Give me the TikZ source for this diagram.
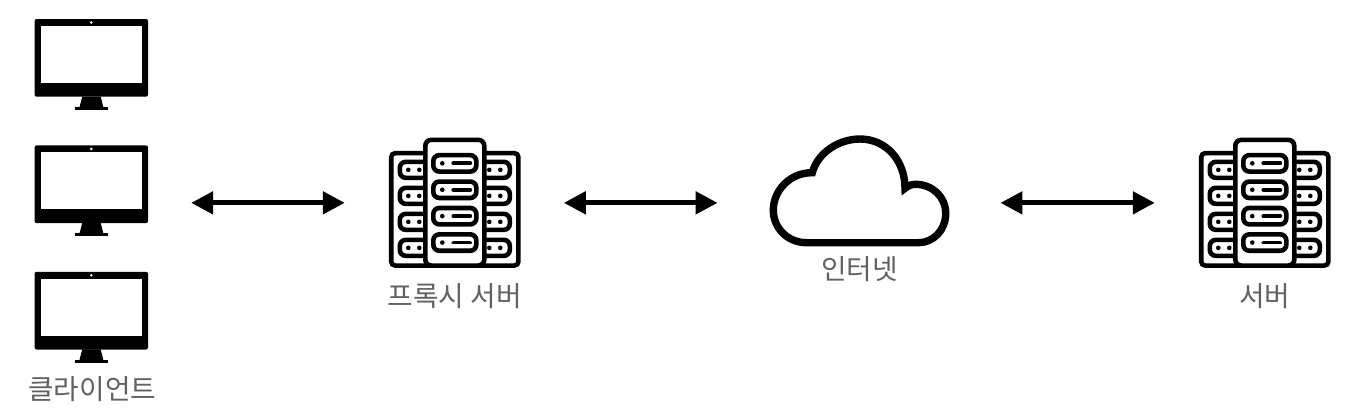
\documentclass[tikz,border=0pt]{standalone}
\usepackage{fontspec}
\usepackage{xcolor}
\usepackage{tikz}
\usetikzlibrary{arrows.meta, positioning}
\newfontfamily\krfont{Noto Sans CJK KR}

\begin{document}
\begin{tikzpicture}[
  x=1pt, y=-1pt,
  client/.style={minimum width=113.4pt, minimum height=91pt, inner sep=0pt},
  srv/.style={minimum width=131.7pt, minimum height=130.3pt, inner sep=0pt},
  net/.style={minimum width=179.5pt, minimum height=112pt, inner sep=0pt},
  lbl/.style={font=\krfont\fontsize{27.8pt}{32pt}\selectfont, text=black!62, inner sep=0pt},
  arr/.style={{Triangle[length=22pt,width=22pt]}-{Triangle[length=22pt,width=22pt]}, line width=5pt},
  box/.style={line width=4.6pt, rounded corners=4pt},
  monitor/.pic={
    \fill[rounded corners=2pt] (-56.7,-45.5) rectangle (56.7,32.2);
    \fill[white] (-50,-38.5) rectangle (50.2,18.5);
    \fill[white] (0,-42) circle (1.4);
    \fill (-9,32) -- (9.4,32) -- (12,42.5) -- (-11.8,42.5) -- cycle;
    \fill (-16.3,42.5) rectangle (16.7,45.5);
  },
  rack/.pic={
    %% side columns
    \draw[box, fill=white] (-63.6,-49.7) rectangle (63.6,62.7);
    \foreach \i in {0,...,3} {
      \begin{scope}[yshift=-26pt*\i]
        \draw[box, rounded corners=6pt] (-55,-41) rectangle (-20,-25);
        \draw[box, rounded corners=6pt] (20,-41) rectangle (55,-25);
        \fill (-46.5,-33) circle (2.3);
        \fill (-35.5,-33) circle (2.3);
        \fill (34.5,-33) circle (2.3);
        \fill (45.5,-33) circle (2.3);
      \end{scope}
    }
    %% middle tower
    \draw[box, rounded corners=6pt, fill=white] (-29.5,-63) rectangle (29.5,62.7);
    \foreach \i in {0,...,3} {
      \begin{scope}[yshift=-26.4pt*\i]
        \draw[box, rounded corners=6pt] (-21.5,-47.7) rectangle (21.5,-31.3);
        \fill (-12.5,-39.5) circle (2.3);
        \draw[line width=3.8pt, line cap=round] (-1.5,-39.5) -- (15.5,-39.5);
      \end{scope}
    }
  },
  cloudicon/.pic={
    \draw[line width=7.4pt, line join=miter]
      (-52.8,51.7) .. controls (-71.5,51.7) and (-86.2,37.5) .. (-86.2,19)
      .. controls (-86.2,0) and (-70,-18.5) .. (-47.2,-18.3)
      .. controls (-42,-38) and (-21,-52) .. (0.5,-52)
      .. controls (27,-52) and (45.5,-30) .. (45.5,-2.7)
      .. controls (48,-5) and (52,-6.7) .. (56,-6.7)
      .. controls (73,-6.7) and (86.2,6) .. (86.2,22.3)
      .. controls (86.2,39) and (74,51.7) .. (58.8,51.7) -- cycle;
  }
]
\useasboundingbox (0,0) rectangle (1362,418);

%% Main nodes
\node[client]                    (client1) at (91.3,64.5) {};
\node[client, below=35pt of client1] (client2) {};
\node[client, below=35pt of client2] (client3) {};
\node[srv]                       (proxy)   at (454.8,202.85) {};
\node[net]                       (inet)    at (859.5,191) {};
\node[srv]                       (server)  at (1264.8,202.85) {};

%% Icons
\pic at (client1) {monitor};
\pic at (client2) {monitor};
\pic at (client3) {monitor};
\pic at (proxy)   {rack};
\pic at (inet)    {cloudicon};
\pic at (server)  {rack};

%% Labels
\node[lbl, below=13pt of client3, xshift=1pt] (clientlbl) {클라이언트};
\node[lbl, below=15pt of proxy]   (proxylbl)  {프록시 서버};
\node[lbl, below=9pt of inet]     (inetlbl)   {인터넷};
\node[lbl, below=15pt of server]  (serverlbl) {서버};

%% Arrows
\draw[arr, shorten <=43pt, shorten >=44pt] (client2.east |- proxy.west) -- (proxy.west);
\draw[arr, shorten <=43pt, shorten >=52pt] (proxy.east) -- (inet.west |- proxy.east);
\draw[arr, shorten <=51pt, shorten >=44pt] (inet.east |- server.west) -- (server.west);

\end{tikzpicture}
\end{document}
